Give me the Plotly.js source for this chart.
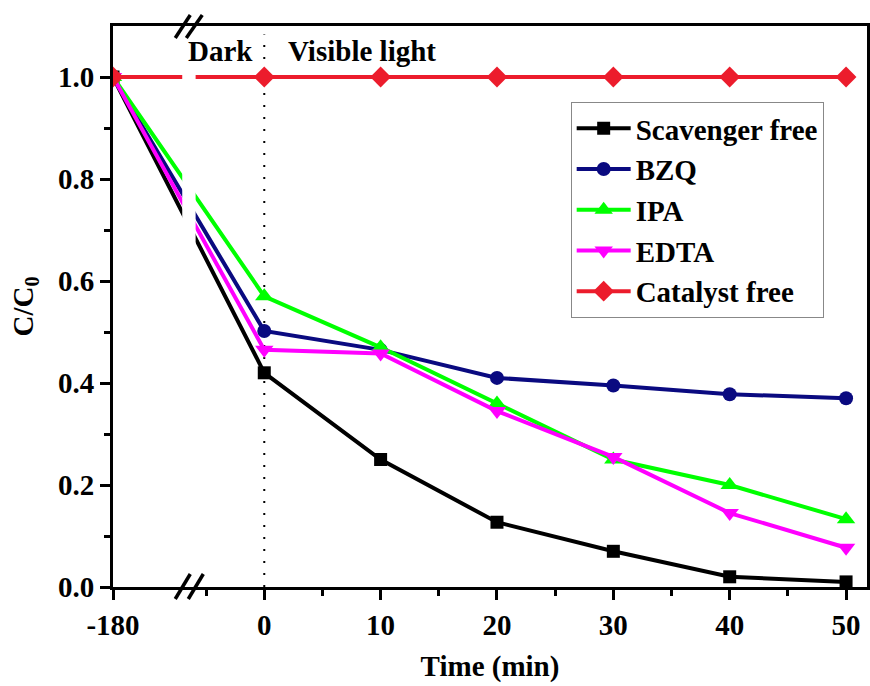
<!DOCTYPE html>
<html>
<head>
<meta charset="utf-8">
<script src="https://cdn.plot.ly/plotly-3.0.1.min.js"></script>
<style>html,body{margin:0;padding:0;background:#fff;}#chart{width:870px;height:686px;}</style>
</head>
<body>
<div id="chart"></div>
<script>
// Data
const timeLabels = [-180, 0, 10, 20, 30, 40, 50];
const scavengerFree = [1.0, 0.42, 0.25, 0.127, 0.07, 0.02, 0.01];
const bzq = [1.0, 0.502, 0.465, 0.41, 0.395, 0.378, 0.37];
const ipa = [1.0, 0.57, 0.47, 0.36, 0.25, 0.20, 0.133];
const edta = [1.0, 0.465, 0.458, 0.345, 0.255, 0.145, 0.077];
const catalystFree = [1.0, 1.0, 1.0, 1.0, 1.0, 1.0, 1.0];
const seriesNames = ['Scavenger free', 'BZQ', 'IPA', 'EDTA', 'Catalyst free'];
const xTickVals = [-180, 0, 10, 20, 30, 40, 50];
const yTickVals = [0, 0.2, 0.4, 0.6, 0.8, 1.0];

// Broken axis: -180 is drawn at the left edge of the axis
const BREAK_POS = -13;
const pos = t => (t === -180 ? BREAK_POS : t);
const xs = timeLabels.map(pos);

const FONT = {family: 'Liberation Serif, Times New Roman, serif', size: 29, color: '#000', weight: 'bold'};

function tr(name, y, color, symbol, size) {
  return {
    x: xs, y: y, name: name, type: 'scatter', mode: 'lines+markers',
    line: {color: color, width: 4},
    marker: {color: color, symbol: symbol, size: size},
    cliponaxis: true
  };
}

const data = [
  tr(seriesNames[0], scavengerFree, '#000000', 'square', 13),
  tr(seriesNames[1], bzq, '#0a0a80', 'circle', 14),
  tr(seriesNames[2], ipa, '#00ff00', 'triangle-up', 16),
  tr(seriesNames[3], edta, '#ff00ff', 'triangle-down', 16),
  tr(seriesNames[4], catalystFree, '#ec1c2c', 'diamond', 16)
];

const slash = (x0, y0, x1, y1) => ({type: 'line', xref: 'x', yref: 'paper', x0: x0, y0: y0, x1: x1, y1: y1,
  line: {color: '#000', width: 3.5}, layer: 'above'});

const layout = {
  width: 870, height: 686,
  margin: {l: 113, r: 3, t: 26, b: 99},
  paper_bgcolor: '#fff', plot_bgcolor: '#fff',
  showlegend: true,
  font: FONT,
  xaxis: {
    range: [-13, 51.8],
    tickmode: 'array', tickvals: xTickVals.map(pos), ticktext: xTickVals.map(String),
    ticks: 'outside', ticklen: 10, tickwidth: 3, tickcolor: '#000',
    minor: {tickmode: 'array', tickvals: [-5, 5, 15, 25, 35, 45], ticks: 'outside', ticklen: 6, tickwidth: 3, tickcolor: '#000'},
    showline: true, linecolor: '#000', linewidth: 3, mirror: true,
    showgrid: false, zeroline: false,
    tickfont: FONT,
    title: {text: 'Time (min)', font: FONT, standoff: 16}
  },
  yaxis: {
    range: [0, 1.1],
    tickmode: 'array', tickvals: yTickVals, ticktext: yTickVals.map(v => v.toFixed(1)),
    ticks: 'outside', ticklen: 10, tickwidth: 3, tickcolor: '#000',
    minor: {tickmode: 'array', tickvals: [0.1, 0.3, 0.5, 0.7, 0.9], ticks: 'outside', ticklen: 6, tickwidth: 3, tickcolor: '#000'},
    showline: true, linecolor: '#000', linewidth: 3, mirror: true,
    showgrid: false, zeroline: false,
    tickfont: FONT,
    title: {text: 'C/C<sub>0</sub>', font: FONT, standoff: 16}
  },
  legend: {
    x: 0.607, y: 0.8645, xanchor: 'left', yanchor: 'top',
    bgcolor: '#fff', bordercolor: '#888', borderwidth: 1,
    font: FONT, itemwidth: 54, tracegroupgap: 0
  },
  shapes: [
    {type: 'rect', xref: 'x', yref: 'paper', x0: -7.05, x1: -5.9, y0: 0.01, y1: 0.99,
      fillcolor: '#fff', line: {width: 0}, layer: 'above'},
    {type: 'line', xref: 'x', yref: 'paper', x0: 0, x1: 0, y0: 0.0, y1: 0.985,
      line: {color: '#000', width: 2, dash: '2px,10px'}, layer: 'below'},
    slash(-7.65, -0.0214, -6.36, 0.0232),
    slash(-6.53, -0.0214, -5.24, 0.0232),
    slash(-7.65, 0.9786, -6.36, 1.0196),
    slash(-6.70, 0.9786, -5.33, 1.0196)
  ],
  annotations: [
    {text: 'Dark', xref: 'x', yref: 'y', x: -3.78, y: 1.051, showarrow: false, font: FONT},
    {text: 'Visible light', xref: 'x', yref: 'y', x: 8.4, y: 1.051, showarrow: false, font: FONT}
  ]
};

Plotly.newPlot('chart', data, layout, {displayModeBar: false, staticPlot: true});
</script>
</body>
</html>
